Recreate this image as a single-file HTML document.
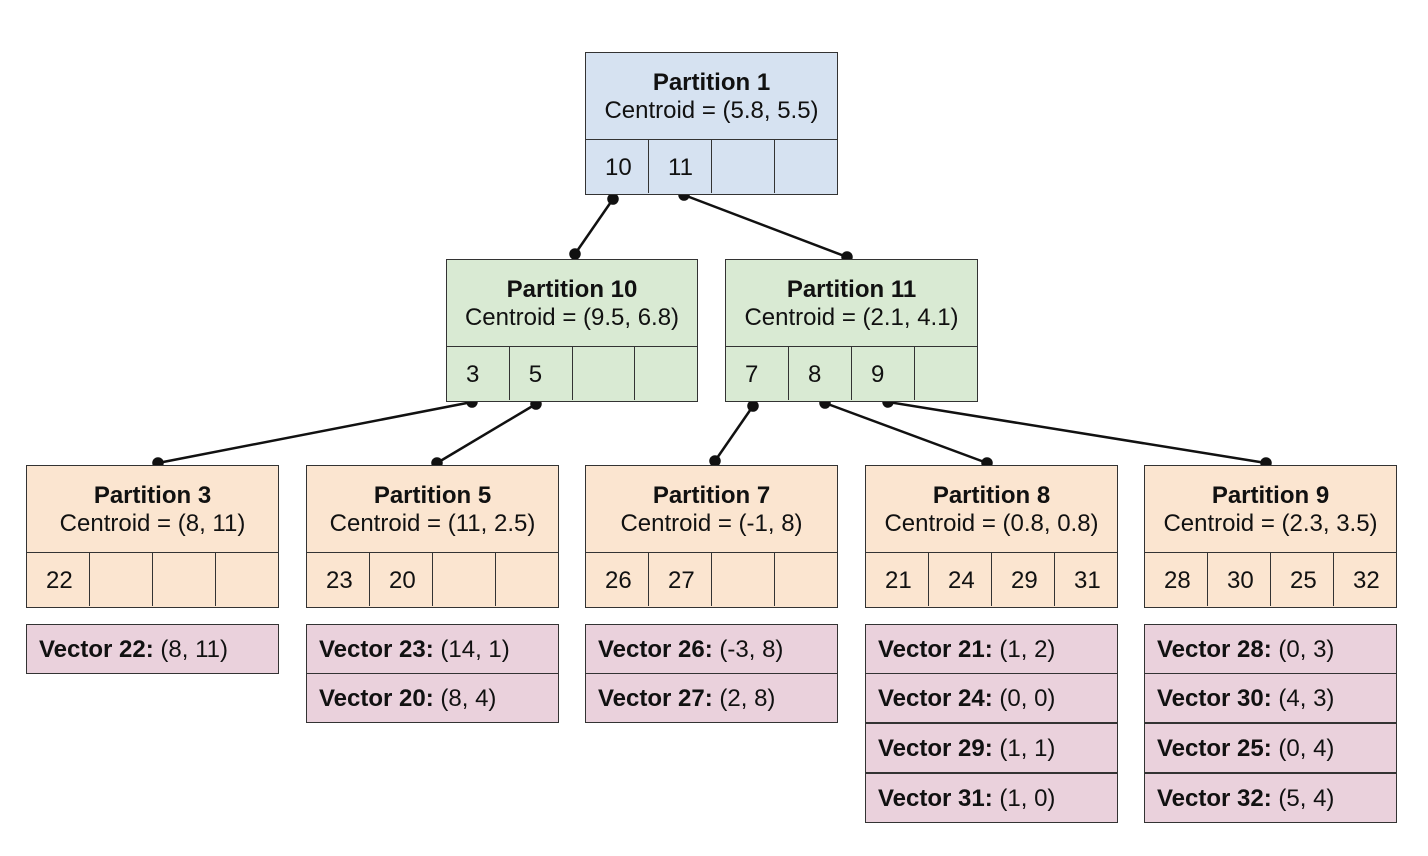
<!DOCTYPE html>
<html><head><style>
body{margin:0;width:1428px;height:856px;background:#fff;position:relative;font-family:"Liberation Sans",Arial,sans-serif;color:#111;overflow:hidden}
.p{position:absolute;width:252px;height:141px;border:1px solid #333;box-sizing:border-box}
.h{height:87px;border-bottom:1px solid #333;box-sizing:border-box;text-align:center;font-size:24px;line-height:28px;padding-top:16px}
.h b{font-weight:bold}
.c{display:flex;height:53px}
.c div{flex:1;border-right:1px solid #333;font-size:24px;line-height:55px;padding-left:19px}
.c div:last-child{border-right:none}
.v{position:absolute;width:253px;height:50px;border:1px solid #333;box-sizing:border-box;background:#ead1dc;font-size:24px;line-height:50px;padding-left:12px}
.b{background:#d6e2f1}.g{background:#d9ead3}.o{background:#fbe5d0}
</style></head><body>
<svg width="1428" height="856" style="position:absolute;left:0;top:0">
<g stroke="#111" stroke-width="2.5" fill="#111">
<line x1="613" y1="199" x2="575" y2="254"/><circle cx="613" cy="199" r="4.5"/><circle cx="575" cy="254" r="4.5"/>
<line x1="684" y1="195" x2="847" y2="257"/><circle cx="684" cy="195" r="4.5"/><circle cx="847" cy="257" r="4.5"/>
<line x1="472" y1="402" x2="158" y2="463"/><circle cx="472" cy="402" r="4.5"/><circle cx="158" cy="463" r="4.5"/>
<line x1="536" y1="404" x2="437" y2="463"/><circle cx="536" cy="404" r="4.5"/><circle cx="437" cy="463" r="4.5"/>
<line x1="753" y1="406" x2="715" y2="461"/><circle cx="753" cy="406" r="4.5"/><circle cx="715" cy="461" r="4.5"/>
<line x1="825" y1="403" x2="987" y2="463"/><circle cx="825" cy="403" r="4.5"/><circle cx="987" cy="463" r="4.5"/>
<line x1="888" y1="402" x2="1266" y2="463"/><circle cx="888" cy="402" r="4.5"/><circle cx="1266" cy="463" r="4.5"/>
</g></svg>

<div class="p b" style="left:585px;top:52px;width:253px;height:143px"><div class="h"><b>Partition 1</b><br>Centroid = (5.8, 5.5)</div><div class="c"><div>10</div><div>11</div><div></div><div></div></div></div>

<div class="p g" style="left:446px;top:259px;height:143px"><div class="h"><b>Partition 10</b><br>Centroid = (9.5, 6.8)</div><div class="c"><div>3</div><div>5</div><div></div><div></div></div></div>
<div class="p g" style="left:725px;top:259px;width:253px;height:143px"><div class="h"><b>Partition 11</b><br>Centroid = (2.1, 4.1)</div><div class="c"><div>7</div><div>8</div><div>9</div><div></div></div></div>

<div class="p o" style="left:26px;top:465px;width:253px;height:143px"><div class="h"><b>Partition 3</b><br>Centroid = (8, 11)</div><div class="c"><div>22</div><div></div><div></div><div></div></div></div>
<div class="p o" style="left:306px;top:465px;width:253px;height:143px"><div class="h"><b>Partition 5</b><br>Centroid = (11, 2.5)</div><div class="c"><div>23</div><div>20</div><div></div><div></div></div></div>
<div class="p o" style="left:585px;top:465px;width:253px;height:143px"><div class="h"><b>Partition 7</b><br>Centroid = (-1, 8)</div><div class="c"><div>26</div><div>27</div><div></div><div></div></div></div>
<div class="p o" style="left:865px;top:465px;width:253px;height:143px"><div class="h"><b>Partition 8</b><br>Centroid = (0.8, 0.8)</div><div class="c"><div>21</div><div>24</div><div>29</div><div>31</div></div></div>
<div class="p o" style="left:1144px;top:465px;width:253px;height:143px"><div class="h"><b>Partition 9</b><br>Centroid = (2.3, 3.5)</div><div class="c"><div>28</div><div>30</div><div>25</div><div>32</div></div></div>

<div class="v" style="left:26px;top:624px"><b>Vector 22:</b> (8, 11)</div>
<div class="v" style="left:306px;top:624px"><b>Vector 23:</b> (14, 1)</div>
<div class="v" style="left:306px;top:673px"><b>Vector 20:</b> (8, 4)</div>
<div class="v" style="left:585px;top:624px"><b>Vector 26:</b> (-3, 8)</div>
<div class="v" style="left:585px;top:673px"><b>Vector 27:</b> (2, 8)</div>
<div class="v" style="left:865px;top:624px"><b>Vector 21:</b> (1, 2)</div>
<div class="v" style="left:865px;top:673px"><b>Vector 24:</b> (0, 0)</div>
<div class="v" style="left:865px;top:723px"><b>Vector 29:</b> (1, 1)</div>
<div class="v" style="left:865px;top:773px"><b>Vector 31:</b> (1, 0)</div>
<div class="v" style="left:1144px;top:624px"><b>Vector 28:</b> (0, 3)</div>
<div class="v" style="left:1144px;top:673px"><b>Vector 30:</b> (4, 3)</div>
<div class="v" style="left:1144px;top:723px"><b>Vector 25:</b> (0, 4)</div>
<div class="v" style="left:1144px;top:773px"><b>Vector 32:</b> (5, 4)</div>
</body></html>
